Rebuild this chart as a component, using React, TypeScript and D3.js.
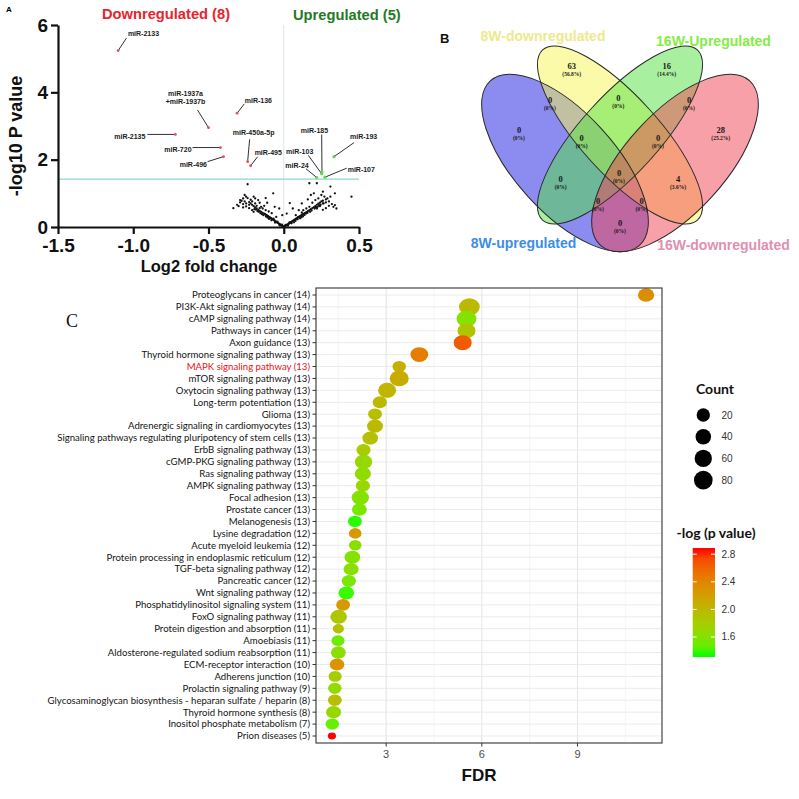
import { useEffect, useRef } from 'react'
import * as d3 from 'd3'

const W = 799, H = 799
const SANS = 'Liberation Sans, Arial, sans-serif'
const SERIF = 'Liberation Serif, Times New Roman, serif'
const LATO = 'Lato, Calibri, sans-serif'

// ---------- A: volcano plot ----------
const downMirs = ['miR-2133', 'miR-1937a\n+miR-1937b', 'miR-136', 'miR-2135', 'miR-720', 'miR-496', 'miR-450a-5p', 'miR-495']
const downFc = [-1.10, -0.50, -0.31, -0.72, -0.42, -0.40, -0.24, -0.22]
const downP = [5.24, 2.95, 3.38, 2.75, 2.36, 2.09, 1.94, 1.82]
const upMirs = ['miR-185', 'miR-103', 'miR-24', 'miR-107', 'miR-193']
const upFc = [0.254, 0.252, 0.219, 0.274, 0.334]
const upP = [1.64, 1.58, 1.47, 1.48, 2.09]
const pThreshold = 1.42
const volcanoXTicks = [-1.5, -1.0, -0.5, 0.0, 0.5]
const volcanoYTicks = [0, 2, 4, 6]
// not significant: [log2 fold change, -log10 P]
const nsPoints: [number, number][] = [
  [0.000, 0.01], [0.005, 0.02], [-0.005, 0.02], [0.010, 0.03], [-0.010, 0.03], [0.015, 0.05], [-0.015, 0.04],
  [0.020, 0.06], [-0.020, 0.06], [0.025, 0.07], [-0.025, 0.08], [0.030, 0.09], [-0.030, 0.09], [0.035, 0.10],
  [-0.035, 0.11], [0.040, 0.12], [-0.040, 0.12], [0.045, 0.13], [-0.045, 0.14], [0.050, 0.15], [-0.050, 0.15],
  [0.055, 0.16], [-0.055, 0.17], [0.060, 0.18], [-0.060, 0.19], [0.065, 0.19], [-0.065, 0.20], [0.070, 0.21],
  [-0.070, 0.22], [0.075, 0.22], [-0.075, 0.23], [0.080, 0.24], [-0.080, 0.25], [0.085, 0.25], [-0.085, 0.26],
  [0.090, 0.27], [-0.090, 0.28], [0.095, 0.29], [-0.095, 0.29], [0.100, 0.30], [-0.100, 0.31], [0.105, 0.31],
  [-0.105, 0.32], [0.110, 0.33], [-0.110, 0.34], [0.115, 0.34], [-0.115, 0.35], [0.120, 0.36], [-0.120, 0.37],
  [0.125, 0.37], [-0.125, 0.38], [0.130, 0.39], [-0.130, 0.40], [0.140, 0.41], [-0.140, 0.42], [0.150, 0.44],
  [-0.150, 0.45], [0.160, 0.47], [-0.160, 0.48], [0.170, 0.50], [-0.170, 0.51], [0.180, 0.53], [-0.180, 0.55],
  [0.190, 0.56], [-0.190, 0.58], [0.200, 0.59], [-0.200, 0.62], [0.210, 0.62], [-0.210, 0.66], [0.220, 0.66],
  [-0.220, 0.70], [0.230, 0.69], [-0.230, 0.74], [0.240, 0.72], [0.250, 0.76], [0.260, 0.78], [0.280, 0.82],
  [0.012, 0.06], [-0.012, 0.07], [0.028, 0.04], [-0.028, 0.05], [0.038, 0.14], [-0.042, 0.16], [0.052, 0.11],
  [-0.058, 0.13], [0.068, 0.14], [-0.068, 0.25], [0.078, 0.18], [-0.082, 0.20], [0.092, 0.23], [-0.098, 0.24],
  [0.108, 0.26], [-0.108, 0.28], [0.118, 0.29], [-0.118, 0.31], [0.128, 0.32], [-0.135, 0.35], [0.138, 0.36],
  [-0.145, 0.38], [0.148, 0.40], [-0.155, 0.41], [0.158, 0.42], [-0.165, 0.45], [0.175, 0.45], [-0.175, 0.47],
  [0.185, 0.49], [-0.185, 0.52], [0.205, 0.55], [-0.195, 0.53], [0.215, 0.58], [0.225, 0.60], [0.235, 0.64],
  [0.245, 0.66], [0.265, 0.70],
  [-0.26, 0.95], [-0.25, 0.90], [-0.27, 0.85], [-0.24, 0.86], [-0.28, 0.78], [-0.25, 0.70], [-0.27, 0.68],
  [-0.23, 0.66], [-0.29, 0.73], [-0.22, 0.81], [-0.21, 0.76], [-0.20, 0.90], [-0.19, 0.70], [-0.18, 0.63],
  [-0.17, 0.80], [-0.16, 0.72], [-0.15, 0.60], [-0.14, 0.55], [-0.13, 0.63], [-0.12, 0.50], [-0.21, 0.50],
  [-0.23, 0.56], [-0.25, 0.61], [-0.30, 0.62], [-0.31, 0.66], [-0.27, 0.58], [-0.20, 0.45], [-0.16, 0.56],
  [-0.10, 0.46], [-0.08, 0.41], [-0.05, 0.30], [-0.11, 0.72], [-0.07, 1.00], [-0.24, 1.27], [-0.335, 0.56],
  [-0.12, 0.86], [-0.03, 0.55], [-0.06, 0.60], [-0.29, 0.80], [-0.26, 0.76], [-0.19, 0.85],
  [0.17, 1.30], [0.22, 1.30], [0.31, 1.20], [0.34, 1.00], [0.45, 0.90], [0.04, 0.71], [0.20, 1.00],
  [0.18, 0.95], [0.25, 0.95], [0.27, 0.90], [0.29, 0.85], [0.23, 0.85], [0.21, 0.80], [0.26, 0.70],
  [0.28, 0.73], [0.30, 0.76], [0.32, 0.68], [0.24, 0.62], [0.22, 0.55], [0.17, 0.60], [0.15, 0.55],
  [0.13, 0.50], [0.12, 0.43], [0.10, 0.50], [0.08, 0.35], [0.06, 0.55], [0.33, 0.60], [0.30, 0.63],
  [0.28, 0.56], [0.26, 0.51], [0.19, 0.72], [0.16, 0.82], [0.12, 0.70], [0.34, 0.65], [0.35, 0.55],
  [0.02, 0.40], [-0.01, 0.35], [0.26, 1.05], [0.31, 0.90],
]
// label placement, px offsets from the point: text anchor + leader line end
const labelLayout: Record<string, { text: [number, number]; line: [number, number]; anchor: string }> = {
  'miR-2133': { text: [9.7, -15], line: [8.2, -12.5], anchor: 'start' },
  'miR-1937a\n+miR-1937b': { text: [-23, -31.7], line: [-11, -17.7], anchor: 'middle' },
  'miR-136': { text: [7.7, -10.6], line: [7.2, -9.3], anchor: 'start' },
  'miR-2135': { text: [-30, 4.5], line: [-28, 0], anchor: 'end' },
  'miR-720': { text: [-29, 4], line: [-28, 0], anchor: 'end' },
  'miR-496': { text: [-16.6, 10.3], line: [-16, 5], anchor: 'end' },
  'miR-450a-5p': { text: [6, -26.7], line: [2, -22.4], anchor: 'middle' },
  'miR-495': { text: [4, -11], line: [7, -9], anchor: 'start' },
  'miR-185': { text: [-7.5, -39], line: [-0.3, -37.2], anchor: 'middle' },
  'miR-103': { text: [-22, -20], line: [-13.4, -18.5], anchor: 'middle' },
  'miR-24': { text: [-19.7, -10], line: [-10.7, -8.7], anchor: 'middle' },
  'miR-107': { text: [22.7, -5.6], line: [21.7, -9], anchor: 'start' },
  'miR-193': { text: [16, -17.7], line: [20, -14], anchor: 'start' },
}

// ---------- B: Venn ----------
const vennSets = ['8W-upregulated', '8W-downregulated', '16W-Upregulated', '16W-downregulated']
const vennRegionKeys = ['Y', 'G', 'YG', 'BY', 'GP', 'B', 'P', 'BYG', 'YGP', 'BYGP', 'BG', 'YP', 'BGP', 'BYP', 'BP']
const vennRegionCounts = [63, 16, 0, 0, 0, 0, 28, 0, 0, 0, 0, 4, 0, 0, 0]
const ellipseGeom = [
  { cx: 565, cy: 163, rx: 111, ry: 50, rot: 47.7, fill: '#1919e1' },
  { cx: 620, cy: 135, rx: 115, ry: 39, rot: 47.7, fill: '#f5f551' },
  { cx: 620, cy: 135, rx: 115, ry: 39, rot: -47.7, fill: '#51e141' },
  { cx: 675, cy: 163, rx: 111, ry: 50, rot: -47.7, fill: '#f14151' },
]
const setLabelStyle = [
  { x: 523.5, y: 248, color: '#3d8de8' },
  { x: 543, y: 41, color: '#efe88e' },
  { x: 713.5, y: 46, color: '#84ec44' },
  { x: 723.5, y: 250, color: '#e090b0' },
]
const regionSpots: Record<string, [number, number]> = {
  Y: [571.7, 66], G: [666.7, 66], YG: [618.3, 98], BY: [550, 100], GP: [689, 100], B: [519, 130],
  P: [720.7, 130], BYG: [581.7, 138], YGP: [658, 138], BYGP: [619, 173], BG: [560.7, 179],
  YP: [678, 179], BGP: [598, 201], BYP: [641.5, 201], BP: [620, 223],
}

// ---------- C: KEGG dot plot ----------
const pathways = [
  'Proteoglycans in cancer', 'PI3K-Akt signaling pathway', 'cAMP signaling pathway', 'Pathways in cancer',
  'Axon guidance', 'Thyroid hormone signaling pathway', 'MAPK signaling pathway', 'mTOR signaling pathway',
  'Oxytocin signaling pathway', 'Long-term potentiation', 'Glioma', 'Adrenergic signaling in cardiomyocytes',
  'Signaling pathways regulating pluripotency of stem cells', 'ErbB signaling pathway', 'cGMP-PKG signaling pathway',
  'Ras signaling pathway', 'AMPK signaling pathway', 'Focal adhesion', 'Prostate cancer', 'Melanogenesis',
  'Lysine degradation', 'Acute myeloid leukemia', 'Protein processing in endoplasmic reticulum',
  'TGF-beta signaling pathway', 'Pancreatic cancer', 'Wnt signaling pathway', 'Phosphatidylinositol signaling system',
  'FoxO signaling pathway', 'Protein digestion and absorption', 'Amoebiasis', 'Aldosterone-regulated sodium reabsorption',
  'ECM-receptor interaction', 'Adherens junction', 'Prolactin signaling pathway',
  'Glycosaminoglycan biosynthesis - heparan sulfate / heparin', 'Thyroid hormone synthesis',
  'Inositol phosphate metabolism', 'Prion diseases',
]
const pathwayMirs = [14, 14, 14, 14, 13, 13, 13, 13, 13, 13, 13, 13, 13, 13, 13, 13, 13, 13, 13, 13, 12, 12, 12, 12, 12, 12, 11, 11, 11, 11, 11, 10, 10, 9, 8, 8, 7, 5]
const fdr = [11.15, 5.61, 5.52, 5.52, 5.40, 4.04, 3.41, 3.41, 3.03, 2.80, 2.65, 2.65, 2.50, 2.29, 2.29, 2.27, 2.27, 2.19, 2.16, 2.02, 2.03, 2.03, 1.94, 1.90, 1.83, 1.75, 1.65, 1.51, 1.50, 1.49, 1.50, 1.46, 1.40, 1.39, 1.39, 1.35, 1.31, 1.30]
const geneCount = [22, 60, 52, 35, 35, 33, 13, 43, 35, 15, 14, 20, 19, 15, 30, 22, 15, 30, 17, 14, 11, 11, 19, 17, 15, 19, 14, 25, 8, 12, 17, 16, 12, 13, 14, 17, 13, 3]
const negLogP = [2.34, 1.97, 1.60, 1.88, 2.65, 2.45, 2.07, 2.10, 2.02, 1.99, 1.94, 1.97, 1.91, 1.82, 1.70, 1.66, 1.70, 1.60, 1.55, 1.34, 2.26, 1.63, 1.60, 1.63, 1.55, 1.36, 2.26, 1.86, 1.90, 1.50, 1.63, 2.29, 1.78, 1.66, 1.94, 1.70, 1.47, 2.89]
const highlighted = 'MAPK signaling pathway'
const fdrTicks = [3, 6, 9]
const fdrMinor = [1.5, 4.5, 7.5, 10.5]
const countLegend = [20, 40, 60, 80]
const pLegendTicks = [1.6, 2.0, 2.4, 2.8]

type G = d3.Selection<SVGGElement, unknown, null, undefined>

function drawVolcano(g: G) {
  const x = d3.scaleLinear().domain([-1.5, 0.5]).range([58, 359])
  const y = d3.scaleLinear().domain([0, 6]).range([227, 25])

  g.append('text').attr('x', 6).attr('y', 12).attr('font-family', SANS).attr('font-weight', 'bold')
    .attr('font-size', 8).text('A')

  g.append('line').attr('x1', x(0)).attr('x2', x(0)).attr('y1', y(6)).attr('y2', y(0))
    .attr('stroke', '#d8e6ec').attr('stroke-width', 1)
  g.append('line').attr('x1', x(-1.5)).attr('x2', x(0.5)).attr('y1', y(pThreshold)).attr('y2', y(pThreshold))
    .attr('stroke', '#8fd3cf').attr('stroke-width', 1.2)

  g.append('g').selectAll('circle').data(nsPoints).join('circle')
    .attr('cx', d => x(d[0])).attr('cy', d => y(d[1])).attr('r', 1.15).attr('fill', '#111')

  const sig = [
    ...downMirs.map((name, i) => ({ name, fc: downFc[i], p: downP[i], up: false })),
    ...upMirs.map((name, i) => ({ name, fc: upFc[i], p: upP[i], up: true })),
  ]
  sig.forEach(s => {
    const L = labelLayout[s.name]
    const px = x(s.fc), py = y(s.p)
    g.append('line').attr('x1', px).attr('y1', py).attr('x2', px + L.line[0]).attr('y2', py + L.line[1])
      .attr('stroke', '#1a1a1a').attr('stroke-width', 0.9)
    const t = g.append('text').attr('x', px + L.text[0]).attr('y', py + L.text[1])
      .attr('text-anchor', L.anchor).attr('font-family', SANS).attr('font-weight', 'bold')
      .attr('font-size', 7).attr('fill', '#1a1a1a')
    s.name.split('\n').forEach((line, k) => {
      t.append('tspan').attr('x', px + L.text[0]).attr('dy', k ? 8.5 : 0).text(line)
    })
  })
  g.append('g').selectAll('circle').data(sig).join('circle')
    .attr('cx', d => x(d.fc)).attr('cy', d => y(d.p)).attr('r', d => d.up ? 1.6 : 1.4)
    .attr('fill', d => d.up ? '#5fd35a' : '#e0505e')

  const ya = g.append('g').attr('transform', `translate(${x(-1.5)},0)`)
    .call(d3.axisLeft(y).tickValues(volcanoYTicks).tickSize(7).tickSizeOuter(0).tickPadding(3)
      .tickFormat(d => String(d)))
  const xa = g.append('g').attr('transform', `translate(0,${y(0)})`)
    .call(d3.axisBottom(x).tickValues(volcanoXTicks).tickSize(7).tickSizeOuter(0).tickPadding(5)
      .tickFormat(d => (+d).toFixed(1)))
  ;[ya, xa].forEach(ax => {
    ax.select('.domain').attr('stroke', '#111').attr('stroke-width', 2.2)
    ax.selectAll('.tick line').attr('stroke', '#111').attr('stroke-width', 2.2)
    ax.selectAll('.tick text').attr('font-family', SANS).attr('font-weight', 'bold')
      .attr('font-size', 19).attr('fill', '#111')
  })

  g.append('text').attr('transform', `translate(22,${(y(0) + y(6)) / 2 + 10}) rotate(-90)`)
    .attr('text-anchor', 'middle').attr('font-family', SANS).attr('font-weight', 'bold')
    .attr('font-size', 18).attr('fill', '#111').text('-log10 P value')
  g.append('text').attr('x', 209).attr('y', 272).attr('text-anchor', 'middle').attr('font-family', SANS)
    .attr('font-weight', 'bold').attr('font-size', 16.5).attr('fill', '#111').text('Log2 fold change')

  g.append('text').attr('x', 166).attr('y', 18.5).attr('text-anchor', 'middle').attr('font-family', SANS)
    .attr('font-weight', 'bold').attr('font-size', 14.7).attr('fill', '#e8232b')
    .text(`Downregulated (${downMirs.length})`)
  g.append('text').attr('x', 293).attr('y', 19.5).attr('font-family', SANS)
    .attr('font-weight', 'bold').attr('font-size', 14.7).attr('fill', '#1f7a25')
    .text(`Upregulated (${upMirs.length})`)
}

function drawVenn(g: G) {
  g.append('text').attr('x', 440).attr('y', 43).attr('font-family', SANS).attr('font-weight', 'bold')
    .attr('font-size', 13).attr('fill', '#111').text('B')

  ellipseGeom.forEach(e => {
    g.append('ellipse').attr('cx', e.cx).attr('cy', e.cy).attr('rx', e.rx).attr('ry', e.ry)
      .attr('transform', `rotate(${e.rot},${e.cx},${e.cy})`)
      .attr('fill', e.fill).attr('fill-opacity', 0.5)
  })
  ellipseGeom.forEach(e => {
    g.append('ellipse').attr('cx', e.cx).attr('cy', e.cy).attr('rx', e.rx).attr('ry', e.ry)
      .attr('transform', `rotate(${e.rot},${e.cx},${e.cy})`)
      .attr('fill', 'none').attr('stroke', '#2a2a2a').attr('stroke-width', 1)
  })

  const total = d3.sum(vennRegionCounts)
  vennRegionKeys.forEach((k, i) => {
    const [cx, cy] = regionSpots[k]
    const c = vennRegionCounts[i]
    const pct = c === 0 ? '0%' : `${((c / total) * 100).toFixed(1)}%`
    g.append('text').attr('x', cx).attr('y', cy + 3).attr('text-anchor', 'middle').attr('font-family', SERIF)
      .attr('font-weight', 'bold').attr('font-size', 8.5).attr('fill', '#1a1a1a').text(c)
    g.append('text').attr('x', cx).attr('y', cy + 9.5).attr('text-anchor', 'middle').attr('font-family', SERIF)
      .attr('font-weight', 'bold').attr('font-size', 5.5).attr('fill', '#1a1a1a').text(`(${pct})`)
  })

  vennSets.forEach((name, i) => {
    const s = setLabelStyle[i]
    g.append('text').attr('x', s.x).attr('y', s.y).attr('text-anchor', 'middle').attr('font-family', SANS)
      .attr('font-weight', 'bold').attr('font-size', 14).attr('fill', s.color).text(name)
  })
}

function drawDots(g: G) {
  const x = d3.scaleLinear().domain([0.8, 11.65]).range([316, 662])
  const y = d3.scalePoint<string>().domain(pathways).range([295, 736])
  const top = 288, bottom = 743
  const color = d3.scaleLinear<string>().domain([1.31, 2.89]).range(['#00ff00', '#ff0000'])
    .interpolate(d3.interpolateLab)
  const rScale = d3.scaleLinear().domain([Math.sqrt(3), Math.sqrt(20), Math.sqrt(80)]).range([3.4, 6.65, 9.35])
  const r = (c: number) => rScale(Math.sqrt(c))

  g.append('text').attr('x', 66).attr('y', 327).attr('font-family', SERIF).attr('font-size', 18)
    .attr('fill', '#111').text('C')

  g.append('rect').attr('x', x.range()[0]).attr('y', top).attr('width', x.range()[1] - x.range()[0])
    .attr('height', bottom - top).attr('fill', '#fff')
  g.append('g').selectAll('line').data(fdrMinor).join('line')
    .attr('x1', d => x(d)).attr('x2', d => x(d)).attr('y1', top).attr('y2', bottom)
    .attr('stroke', '#f2f2f2').attr('stroke-width', 0.8)
  g.append('g').selectAll('line').data(pathways).join('line')
    .attr('x1', x.range()[0]).attr('x2', x.range()[1]).attr('y1', d => y(d)!).attr('y2', d => y(d)!)
    .attr('stroke', '#ebebeb').attr('stroke-width', 1)
  g.append('g').selectAll('line').data(fdrTicks).join('line')
    .attr('x1', d => x(d)).attr('x2', d => x(d)).attr('y1', top).attr('y2', bottom)
    .attr('stroke', '#e6e6e6').attr('stroke-width', 1.1)

  const rows = pathways.map((p, i) => ({ p, f: fdr[i], c: geneCount[i], v: negLogP[i] }))
  g.append('g').selectAll('ellipse').data(rows).join('ellipse')
    .attr('cx', d => x(d.f)).attr('cy', d => y(d.p)!)
    .attr('rx', d => r(d.c) * 1.2).attr('ry', d => r(d.c))
    .attr('fill', d => color(d.v))

  g.append('rect').attr('x', x.range()[0]).attr('y', top).attr('width', x.range()[1] - x.range()[0])
    .attr('height', bottom - top).attr('fill', 'none').attr('stroke', '#333').attr('stroke-width', 1.1)

  // y axis labels
  g.append('g').selectAll('line').data(pathways).join('line')
    .attr('x1', x.range()[0] - 3.5).attr('x2', x.range()[0]).attr('y1', d => y(d)!).attr('y2', d => y(d)!)
    .attr('stroke', '#333').attr('stroke-width', 1)
  g.append('g').selectAll('text').data(pathways).join('text')
    .attr('x', 310).attr('y', d => y(d)!).attr('dy', '0.35em').attr('text-anchor', 'end')
    .attr('font-family', LATO).attr('font-size', 9.6)
    .attr('fill', d => d === highlighted ? '#e8101a' : '#141414')
    .text((d, i) => `${d} (${pathwayMirs[i]})`)

  // x axis
  g.append('g').selectAll('line').data(fdrTicks).join('line')
    .attr('x1', d => x(d)).attr('x2', d => x(d)).attr('y1', bottom).attr('y2', bottom + 3.5)
    .attr('stroke', '#333').attr('stroke-width', 1)
  g.append('g').selectAll('text').data(fdrTicks).join('text')
    .attr('x', d => x(d)).attr('y', 758).attr('text-anchor', 'middle').attr('font-family', SANS)
    .attr('font-size', 11).attr('fill', '#4d4d4d').text(d => d)
  g.append('text').attr('x', 479).attr('y', 781).attr('text-anchor', 'middle').attr('font-family', SANS)
    .attr('font-weight', 'bold').attr('font-size', 17).attr('fill', '#111').text('FDR')

  // size legend
  g.append('text').attr('x', 696).attr('y', 394).attr('font-family', LATO).attr('font-weight', 'bold')
    .attr('font-size', 14).attr('fill', '#111').text('Count')
  countLegend.forEach((c, i) => {
    const cy = 415 + i * 21.7
    g.append('circle').attr('cx', 703.3).attr('cy', cy).attr('r', r(c)).attr('fill', '#000')
    g.append('text').attr('x', 721.5).attr('y', cy).attr('dy', '0.35em').attr('font-family', SANS)
      .attr('font-size', 10).attr('fill', '#333').text(c)
  })

  // colour legend
  g.append('text').attr('x', 676.5).attr('y', 538).attr('font-family', LATO).attr('font-weight', 'bold')
    .attr('font-size', 14).attr('fill', '#111').text('-log (p value)')
  const cb = d3.scaleLinear().domain(color.domain()).range([657, 548])
  const grad = g.append('defs').append('linearGradient').attr('id', 'pgrad')
    .attr('x1', 0).attr('x2', 0).attr('y1', 1).attr('y2', 0)
  d3.range(0, 1.0001, 0.1).forEach(t => {
    grad.append('stop').attr('offset', t)
      .attr('stop-color', color(color.domain()[0] + t * (color.domain()[1] - color.domain()[0])))
  })
  const bx = 692.7, bw = 22.3
  g.append('rect').attr('x', bx).attr('y', cb.range()[1]).attr('width', bw)
    .attr('height', cb.range()[0] - cb.range()[1]).attr('fill', 'url(#pgrad)')
  pLegendTicks.forEach(v => {
    g.append('line').attr('x1', bx).attr('x2', bx + 4).attr('y1', cb(v)).attr('y2', cb(v))
      .attr('stroke', '#fff').attr('stroke-width', 1)
    g.append('line').attr('x1', bx + bw - 4).attr('x2', bx + bw).attr('y1', cb(v)).attr('y2', cb(v))
      .attr('stroke', '#fff').attr('stroke-width', 1)
    g.append('text').attr('x', 721.5).attr('y', cb(v)).attr('dy', '0.35em').attr('font-family', SANS)
      .attr('font-size', 10).attr('fill', '#333').text(v.toFixed(1))
  })
}

export default function App() {
  const svgRef = useRef<SVGSVGElement>(null)

  useEffect(() => {
    const svg = d3.select(svgRef.current!)
    svg.selectAll('*').remove()
    svg.append('rect').attr('width', W).attr('height', H).attr('fill', '#fff')
    drawVolcano(svg.append('g'))
    drawVenn(svg.append('g'))
    drawDots(svg.append('g'))
  }, [])

  return (
    <svg ref={svgRef} width={W} height={H} viewBox={`0 0 ${W} ${H}`}
      style={{ position: 'absolute', left: 0, top: 0, display: 'block' }} />
  )
}
